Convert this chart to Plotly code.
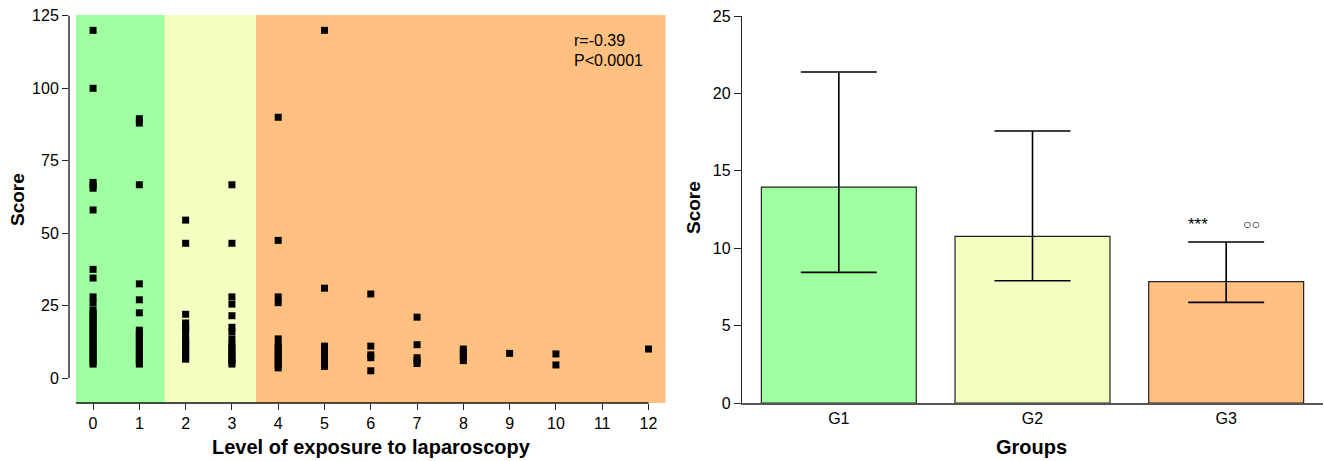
import plotly.graph_objects as go

# ---------------- data ----------------
exposure_levels = [0, 1, 2, 3, 4, 5, 6, 7, 8, 9, 10, 11, 12]
level_0 = [120, 100, 67.5, 66.5, 65.5, 58, 37.5, 34.5, 28, 26, 23.5, 22.5, 21.5, 20.5, 19.5,
           18.5, 17.5, 16.5, 15.5, 14.5, 13.5, 12.5, 11.5, 10.5, 9.5, 8.5, 7.5, 6.5, 5.5, 4.8]
level_1 = [89.5, 88, 66.7, 32.5, 27, 22.5, 16.5, 15.5, 14.5, 13.5, 12.5, 11.5, 10.5, 9.5,
           8.5, 7.5, 6.5, 5.5, 4.8]
level_2 = [54.5, 46.5, 22, 19, 18, 17, 16, 13.8, 13, 12, 11, 10, 9, 8, 7, 6.5]
level_3 = [66.7, 46.5, 28, 25.5, 21.5, 17.5, 16, 13.5, 11.5, 10.5, 9.5, 8.5, 7.5, 6.5, 5.5, 4.8]
level_4 = [90, 47.5, 28, 26, 13.5, 11.5, 10.5, 9.5, 8.5, 7.5, 6.5, 5.5, 4.5, 3.5]
level_5 = [120, 31, 11, 10, 9, 8, 7, 6, 5, 4]
level_6 = [29, 11, 8, 7, 2.5]
level_7 = [21, 11.5, 7, 6, 5]
level_8 = [10, 9, 8, 7, 6]
level_9 = [8.5]
level_10 = [8.3, 4.5]
level_11 = []
level_12 = [10]
scores_by_level = [level_0, level_1, level_2, level_3, level_4, level_5, level_6,
                   level_7, level_8, level_9, level_10, level_11, level_12]

x_ticks = list(range(0, 13))
y_ticks_left = [0, 25, 50, 75, 100, 125]

groups = ["G1", "G2", "G3"]
group_means = [13.95, 10.77, 7.84]
group_upper = [21.38, 17.57, 10.40]
group_lower = [8.44, 7.90, 6.50]
y_ticks_right = [0, 5, 10, 15, 20, 25]

# band limits (exposure levels)
band_edges = [-0.37, 1.55, 3.52, 12.37]
band_colors = ["#A0FFA0", "#F3FEC0", "#FFC080"]
bar_colors = ["#A0FFA0", "#F3FEC0", "#FFC080"]

# ---------------- figure ----------------
W, H = 1324, 461
FONT = "Liberation Sans, Arial, Helvetica, sans-serif"

xs, ys = [], []
for lvl, vals in zip(exposure_levels, scores_by_level):
    for v in vals:
        xs.append(lvl)
        ys.append(v)

fig = go.Figure()
fig.add_trace(go.Scatter(
    x=xs, y=ys, mode="markers", xaxis="x", yaxis="y",
    marker=dict(symbol="square", size=7, color="black"),
    showlegend=False, hoverinfo="x+y"))

fig.add_trace(go.Bar(
    x=groups, y=group_means, xaxis="x2", yaxis="y2",
    marker=dict(color=bar_colors, line=dict(color="#222", width=1.2)),
    width=0.8,
    error_y=dict(type="data", symmetric=False,
                 array=[u - m for u, m in zip(group_upper, group_means)],
                 arrayminus=[m - l for m, l in zip(group_means, group_lower)],
                 color="black", thickness=1.6, width=38),
    showlegend=False))

left_dom = [69 / W, 667 / W]
right_dom = [742 / W, 1323 / W]

fig.update_layout(
    width=W, height=H, margin=dict(l=0, r=0, t=0, b=0, pad=0),
    paper_bgcolor="white", plot_bgcolor="rgba(0,0,0,0)",
    font=dict(family=FONT, color="black"),
    xaxis=dict(domain=left_dom, range=[-0.52, 12.4], tickvals=x_ticks, automargin=False,
               showgrid=False, zeroline=False, showline=False,
               ticks="outside", ticklen=6, tickwidth=1.2, tickcolor="#222",
               tickfont=dict(size=16)),
    yaxis=dict(domain=[(H - 403) / H, (H - 15) / H], range=[-8.63, 125.3], automargin=False,
               tickvals=y_ticks_left, showgrid=False, zeroline=False, showline=False,
               ticks="outside", ticklen=6, tickwidth=1.2, tickcolor="#222",
               tickfont=dict(size=16)),
    xaxis2=dict(domain=right_dom, range=[-0.5, 2.5], anchor="y2", automargin=False,
                showgrid=False, zeroline=False, showline=True, linecolor="#555",
                linewidth=1.5, ticks="", tickfont=dict(size=16)),
    yaxis2=dict(domain=[(H - 403) / H, (H - 16) / H], range=[0, 25], anchor="x2",
                automargin=False,
                tickvals=y_ticks_right, showgrid=False, zeroline=False,
                showline=True, linecolor="#222", linewidth=1.3,
                ticks="outside", ticklen=7, tickwidth=1.2, tickcolor="#222",
                tickfont=dict(size=16)),
)

shapes = []
for i, c in enumerate(band_colors):
    shapes.append(dict(type="rect", xref="x", yref="y", x0=band_edges[i], x1=band_edges[i + 1],
                       y0=-8.63, y1=125.3, fillcolor=c, line=dict(width=0), layer="below"))
# offset axis lines (Prism style)
shapes.append(dict(type="line", xref="paper", yref="y", x0=69 / W, x1=69 / W, y0=0, y1=125,
                   line=dict(color="#333", width=1.5)))
shapes.append(dict(type="line", xref="x", yref="paper", x0=-0.37, x1=12,
                   y0=(H - 403) / H, y1=(H - 403) / H, line=dict(color="#111", width=1.5)))
fig.update_layout(shapes=shapes)

def ann(text, x, y, size, angle=0, xanchor="center", xref="paper", yref="paper"):
    return dict(text=text, x=x, y=y, xref=xref, yref=yref, xanchor=xanchor,
                yanchor="middle", textangle=angle, showarrow=False,
                font=dict(size=size, color="black"))

annotations = [
    ann("r=-0.39", 572 / W, (H - 40) / H, 16, xanchor="left"),
    ann("P&lt;0.0001", 572 / W, (H - 60) / H, 16, xanchor="left"),
    ann("<b>Score</b>", 18 / W, (H - 200) / H, 19, angle=-90),
    ann("<b>Level of exposure to laparoscopy</b>", 371 / W, (H - 447) / H, 20),
    ann("<b>Score</b>", 693 / W, (H - 208) / H, 19, angle=-90),
    ann("<b>Groups</b>", 1031 / W, (H - 447) / H, 20),
    ann("***", 1.855, 11.56, 17, xref="x2", yref="y2"),
    ann("○○", 2.13, 11.56, 14, xref="x2", yref="y2"),
]
fig.update_layout(annotations=annotations)

fig.write_html("out.html", config={"displayModeBar": False},
               post_script="document.body.style.margin='0px';")
